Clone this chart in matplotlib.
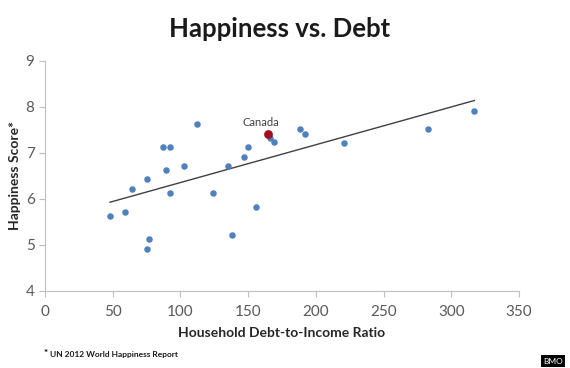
import numpy as np
import matplotlib
matplotlib.use("Agg")
import matplotlib.pyplot as plt

plt.rcParams['font.family'] = ['Lato', 'DejaVu Sans']

# household debt-to-income ratio vs happiness score
debt = [48, 59, 64, 75.5, 75.5, 76.5, 87, 89.5, 92, 92, 103, 112, 124, 135,
        138, 147, 150, 156, 166, 169, 188, 192, 220.5, 283, 317]
happy = [5.62, 5.72, 6.22, 6.43, 4.92, 5.12, 7.12, 6.62, 7.12, 6.14, 6.71, 7.62,
         6.14, 6.71, 5.22, 6.92, 7.12, 5.83, 7.32, 7.23, 7.53, 7.42, 7.22, 7.53, 7.92]
canada_debt = 164.5
canada_happy = 7.42

xticks = [0, 50, 100, 150, 200, 250, 300, 350]
yticks = [4, 5, 6, 7, 8, 9]

all_x = np.array(debt + [canada_debt])
all_y = np.array(happy + [canada_happy])
k, b = np.polyfit(all_x, all_y, 1)
xs = np.array([all_x.min(), all_x.max()])

fig = plt.figure(figsize=(5.7, 3.68), dpi=100)
ax = fig.add_axes([45/570, 1-291/368, 474/570, 230/368])

ax.plot(xs, k*xs + b, color='#404040', lw=1, zorder=2)
ax.scatter(debt, happy, s=22, color='#4f81bd', zorder=3, linewidths=0)
ax.scatter([canada_debt], [canada_happy], s=40, color='#a0101c', zorder=4, linewidths=0)
ax.annotate("Canada", (canada_debt, canada_happy), xytext=(-5, 4),
            textcoords='offset points', ha='center', va='bottom',
            fontsize=8, color='#404040')

ax.set_xlim(0, 350)
ax.set_ylim(4, 9)
ax.set_xticks(xticks)
ax.set_yticks(yticks)
for s in ['top', 'right']:
    ax.spines[s].set_visible(False)
for s in ['left', 'bottom']:
    ax.spines[s].set_color('#bfbfbf')
ax.tick_params(colors='#bfbfbf', labelcolor='#595959', labelsize=11, length=4)
ax.tick_params(axis='x', pad=6)

ax.set_xlabel("Household Debt-to-Income Ratio", fontsize=10, fontweight='bold',
              color='#262626', labelpad=6)
ax.set_ylabel("Happiness Score*", fontsize=10, fontweight='bold', color='#262626')
ax.yaxis.set_label_coords(-24/474, 0.5)

fig.text(0.49, 0.92, "Happiness vs. Debt", ha='center', va='center',
         fontsize=18.5, fontweight='bold', color='#1a1a1a')
fig.text(44/570, 1-354/368, "*", fontsize=7, fontweight='bold', va='center')
fig.text(50/570, 1-355/368, "UN 2012 World Happiness Report", fontsize=6,
         fontweight='bold', va='center', color='#1a1a1a')
fig.text(553/570, 1-361/368, "BMO", fontsize=6, color='white', ha='center',
         va='center', bbox=dict(boxstyle='square,pad=0.25', fc='black', ec='none'))

fig.savefig("out.png", dpi=100)
